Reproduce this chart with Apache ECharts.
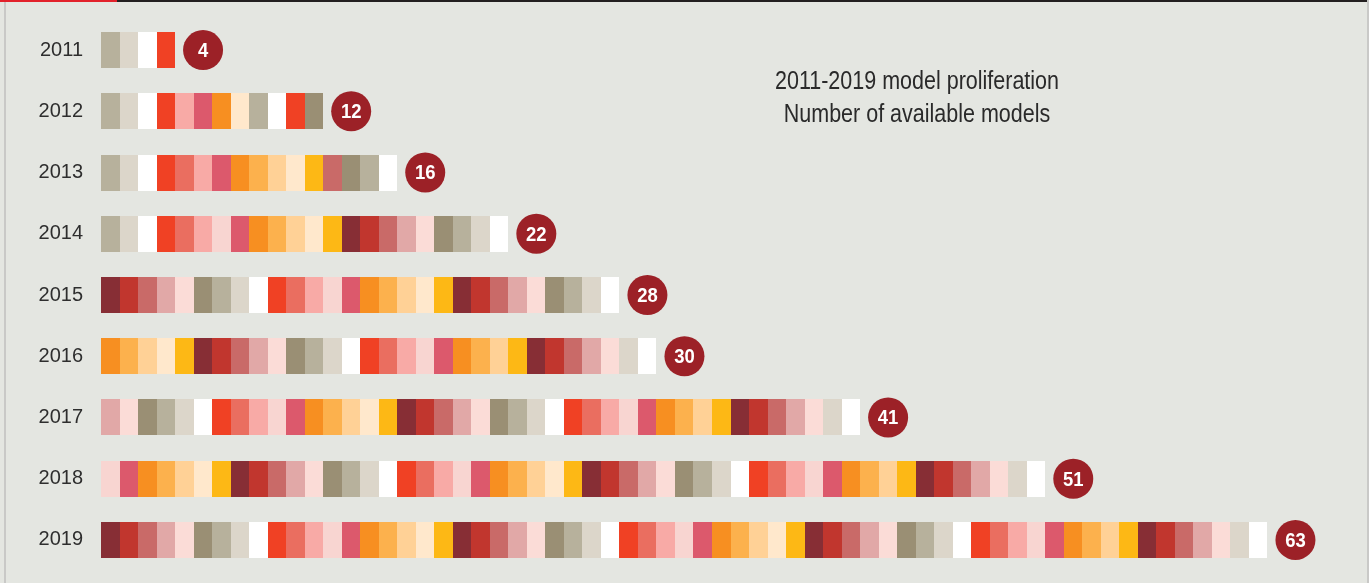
<!DOCTYPE html>
<html>
<head>
<meta charset="utf-8">
<script src="https://cdn.jsdelivr.net/npm/echarts@6/dist/echarts.min.js"></script>
<style>
html,body{margin:0;padding:0;background:#ffffff;}
#chart{width:1372px;height:583px;}
</style>
</head>
<body>
<div id="chart"></div>
<script>
// ---- data ----
const years = ['2011','2012','2013','2014','2015','2016','2017','2018','2019'];
const modelCounts = [4, 12, 16, 22, 28, 30, 41, 51, 63];
const titleLines = ['2011-2019 model proliferation', 'Number of available models'];

// colour keys for each model square, per year
const palette = {
  dT: '#9A8F74', T: '#B7B19C', lT: '#DCD6CA', W: '#FFFFFF',
  R: '#F04124', Co: '#EA6E60', Sa: '#F8AAA6', Pa: '#F8D5D1', PR: '#DC596C',
  Or: '#F78F21', lO: '#FCB14D', Pe: '#FFD196', Cr: '#FFE8CC', Y: '#FDB815',
  Ma: '#872E35', Ci: '#C1362E', DR: '#C96A68', Mv: '#E1A8A7', Bl: '#FBDCD7'
};
const cells2011 = ['T','lT','W','R'];
const cells2012 = ['T','lT','W','R','Sa','PR','Or','Cr','T','W','R','dT'];
const cells2013 = ['T','lT','W','R','Co','Sa','PR','Or','lO','Pe','Cr','Y','DR','dT','T','W'];
const cells2014 = ['T','lT','W','R','Co','Sa','Pa','PR','Or','lO','Pe','Cr','Y','Ma','Ci','DR','Mv','Bl','dT','T','lT','W'];
const cells2015 = ['Ma','Ci','DR','Mv','Bl','dT','T','lT','W','R','Co','Sa','Pa','PR','Or','lO','Pe','Cr','Y','Ma','Ci','DR','Mv','Bl','dT','T','lT','W'];
const cells2016 = ['Or','lO','Pe','Cr','Y','Ma','Ci','DR','Mv','Bl','dT','T','lT','W','R','Co','Sa','Pa','PR','Or','lO','Pe','Y','Ma','Ci','DR','Mv','Bl','lT','W'];
const cells2017 = ['Mv','Bl','dT','T','lT','W','R','Co','Sa','Pa','PR','Or','lO','Pe','Cr','Y','Ma','Ci','DR','Mv','Bl','dT','T','lT','W','R','Co','Sa','Pa','PR','Or','lO','Pe','Y','Ma','Ci','DR','Mv','Bl','lT','W'];
const cells2018 = ['Pa','PR','Or','lO','Pe','Cr','Y','Ma','Ci','DR','Mv','Bl','dT','T','lT','W','R','Co','Sa','Pa','PR','Or','lO','Pe','Cr','Y','Ma','Ci','DR','Mv','Bl','dT','T','lT','W','R','Co','Sa','Pa','PR','Or','lO','Pe','Y','Ma','Ci','DR','Mv','Bl','lT','W'];
const cells2019 = ['Ma','Ci','DR','Mv','Bl','dT','T','lT','W','R','Co','Sa','Pa','PR','Or','lO','Pe','Cr','Y','Ma','Ci','DR','Mv','Bl','dT','T','lT','W','R','Co','Sa','Pa','PR','Or','lO','Pe','Cr','Y','Ma','Ci','DR','Mv','Bl','dT','T','lT','W','R','Co','Sa','Pa','PR','Or','lO','Pe','Y','Ma','Ci','DR','Mv','Bl','lT','W'];
const cellsByYear = [cells2011, cells2012, cells2013, cells2014, cells2015, cells2016, cells2017, cells2018, cells2019];

// ---- build series data ----
const cellData = [];
const cellColors = [];
cellsByYear.forEach(function (row, r) {
  row.forEach(function (key, i) {
    cellData.push([i, r]);
    cellColors.push(palette[key]);
  });
});
const badgeData = modelCounts.map(function (c, r) { return [c, r]; });

const FONT = "'Liberation Sans Narrow', 'Arial Narrow', 'Liberation Sans', sans-serif";
const chart = echarts.init(document.getElementById('chart'), null, {renderer: 'canvas'});
chart.setOption({
  backgroundColor: '#E4E6E1',
  animation: false,
  grid: {left: 101, right: 49, top: 19.4, bottom: 12.4, containLabel: false},
  xAxis: {type: 'value', min: 0, max: 66, show: false},
  yAxis: {
    type: 'category', data: years, inverse: true,
    axisLine: {show: false}, axisTick: {show: false}, splitLine: {show: false},
    axisLabel: {fontFamily: FONT, fontSize: 20, color: '#2e2e2e', margin: 18}
  },
  graphic: [
    {type: 'rect', shape: {x: 0, y: 0, width: 1368, height: 2}, style: {fill: '#231F20'}, silent: true},
    {type: 'rect', shape: {x: 0, y: 0, width: 117, height: 2}, style: {fill: '#E2222B'}, silent: true},
    {type: 'rect', shape: {x: 4, y: 2, width: 2, height: 581}, style: {fill: '#C9C9C7'}, silent: true},
    {type: 'rect', shape: {x: 1367, y: 0, width: 2, height: 583}, style: {fill: '#C9C9C7'}, silent: true},
    {type: 'rect', shape: {x: 1369, y: 0, width: 3, height: 583}, style: {fill: '#FFFFFF'}, silent: true},
    {type: 'text', x: 917, y: 66, scaleX: 0.86, silent: true,
      style: {text: titleLines.join('\n'), fill: '#2a2a2a', align: 'center', verticalAlign: 'top',
        font: '25px ' + FONT, lineHeight: 33}}
  ],
  series: [
    {
      type: 'custom',
      data: cellData,
      renderItem: function (params, api) {
        const a = api.coord([api.value(0), api.value(1)]);
        const b = api.coord([api.value(0) + 1, api.value(1)]);
        const x0 = Math.round(a[0]), x1 = Math.round(b[0]);
        return {
          type: 'rect',
          shape: {x: x0, y: Math.round(a[1] - 18), width: x1 - x0, height: 36},
          style: {fill: cellColors[params.dataIndex]}
        };
      }
    },
    {
      type: 'custom',
      data: badgeData,
      renderItem: function (params, api) {
        const p = api.coord([api.value(0), api.value(1)]);
        const cx = p[0] + 28, cy = p[1];
        return {
          type: 'group',
          children: [
            {type: 'circle', shape: {cx: cx, cy: cy, r: 20}, style: {fill: '#9C2127'}},
            {type: 'text', x: cx, y: cy + 1, scaleX: 0.88, style: {
              text: String(api.value(0)), fill: '#FFFFFF', align: 'center', verticalAlign: 'middle',
              font: 'bold 21px ' + FONT
            }}
          ]
        };
      }
    }
  ]
});
</script>
</body>
</html>
